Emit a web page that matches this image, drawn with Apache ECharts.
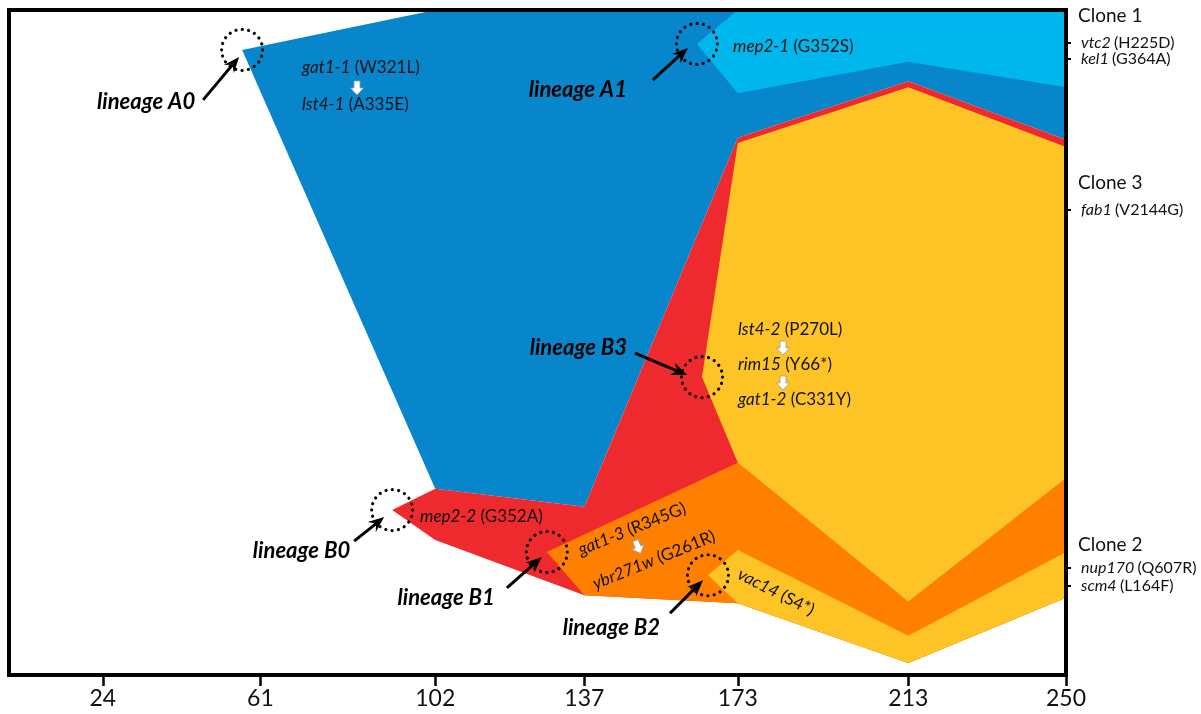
<!DOCTYPE html>
<html><head><meta charset="utf-8">
<script src="https://cdn.jsdelivr.net/npm/echarts@6/dist/echarts.min.js"></script>
<style>html,body{margin:0;padding:0;background:#fff}#chart{width:1201px;height:714px}</style>
</head><body><div id="chart"></div>
<script>
// ---- data (generation, frequency %) ----
const generations = [24, 61, 102, 137, 173, 213, 250];

const A0_origin = [56.7, 94.0];
const A0_upper = [[102, 100], [250, 100]];
const A0_lower = [[102, 28.0], [137, 25.3], [173, 80.8], [213, 89.3], [250, 80.5]];

const A1_origin = [163.4, 94.9];
const A1_upper = [[173, 100], [250, 100]];
const A1_lower = [[173, 87.5], [213, 92.2], [250, 88.4]];

const B0_origin = [91.9, 24.8];
const B0_upper = [[102, 28.0], [137, 25.3], [173, 80.8], [213, 89.3], [250, 80.5]];
const B0_lower = [[102, 20.3], [137, 12.0], [173, 10.8], [213, 1.8], [250, 11.6]];

const B1_origin = [128.2, 18.5];
const B1_upper = [[173, 31.9], [213, 11.0], [250, 29.6]];
const B1_lower = [[137, 12.0], [173, 10.8], [213, 1.8], [250, 11.6]];

const B3_origin = [164.6, 44.8];
const B3_upper = [[173, 80.0], [213, 88.4], [250, 79.4]];
const B3_lower = [[173, 31.9], [213, 11.0], [250, 29.6]];

const B2_origin = [166.0, 15.0];
const B2_upper = [[173, 18.8], [213, 5.9], [250, 18.5]];
const B2_lower = [[173, 10.8], [213, 1.8], [250, 11.6]];

const lineageNames = ['lineage A0', 'lineage A1', 'lineage B0', 'lineage B1', 'lineage B2', 'lineage B3'];
const lineageOrigins = [A0_origin, A1_origin, B0_origin, B1_origin, B2_origin, B3_origin];

const cloneHeaders = ['Clone 1', 'Clone 3', 'Clone 2'];
const cloneHeaderFreq = [99.1, 74.0, 19.5];
const markerGenes = ['vtc2', 'kel1', 'fab1', 'nup170', 'scm4'];
const markerMutations = ['(H225D)', '(G364A)', '(V2144G)', '(Q607R)', '(L164F)'];
const markerFreq = [95.1, 92.6, 69.9, 16.1, 13.4];

// ---- styles / layout ----
const COLORS = { A0: '#0886CC', A1: '#00B7ED', B0: '#EE2A2E', B1: '#FF8000', B3: '#FEC425', B2: '#FEC425' };
const FONT = 'Lato';
const calloutLayout = {
  'lineage A0': { tail: [-39, 50], head: [-3, 7], label: [-47, 52] },
  'lineage A1': { tail: [-44, 36], head: [-9, 4], label: [-70, 46] },
  'lineage B0': { tail: [-38, 31], head: [-8, 7], label: [-42, 41] },
  'lineage B1': { tail: [-40, 36], head: [-5, 5], label: [-52, 46] },
  'lineage B2': { tail: [-38, 38], head: [-5, 5], label: [-48, 53] },
  'lineage B3': { tail: [-67, -24], head: [-15, -2], label: [-75, -29] }
};

function polygonSeries(name, origin, upper, lower, color) {
  return {
    type: 'custom', name: name, coordinateSystem: 'cartesian2d', silent: true,
    data: [[origin[0], origin[1]]],
    renderItem: function (params, api) {
      const pts = [origin].concat(upper, lower.slice().reverse()).map(function (p) { return api.coord(p); });
      return { type: 'polygon', shape: { points: pts }, style: { fill: color } };
    }
  };
}

const calloutSeries = {
  type: 'custom', coordinateSystem: 'cartesian2d', silent: true, z: 5,
  data: lineageOrigins.map(function (o) { return [o[0], o[1]]; }),
  renderItem: function (params, api) {
    const name = lineageNames[params.dataIndex];
    const L = calloutLayout[name];
    const c = api.coord([api.value(0), api.value(1)]);
    const tail = [c[0] + L.tail[0], c[1] + L.tail[1]];
    const head = [c[0] + L.head[0], c[1] + L.head[1]];
    const dx = head[0] - tail[0], dy = head[1] - tail[1], len = Math.hypot(dx, dy);
    const ux = dx / len, uy = dy / len, nx = -uy, ny = ux;
    const AL = 16, AW = 6.5;
    const base = [head[0] - ux * AL, head[1] - uy * AL];
    const notch = [head[0] - ux * AL * 0.65, head[1] - uy * AL * 0.65];
    return {
      type: 'group', children: [
        { type: 'circle', shape: { cx: c[0], cy: c[1], r: 20.5 },
          style: { fill: null, stroke: '#000', lineWidth: 3.2, lineDash: [0.01, 6.4], lineCap: 'round' } },
        { type: 'line', shape: { x1: tail[0], y1: tail[1], x2: notch[0], y2: notch[1] },
          style: { stroke: '#000', lineWidth: 3 } },
        { type: 'polygon', shape: { points: [head, [base[0] + nx * AW, base[1] + ny * AW], notch, [base[0] - nx * AW, base[1] - ny * AW]] },
          style: { fill: '#000' } },
        { type: 'text', x: c[0] + L.label[0], y: c[1] + L.label[1],
          style: { text: name, fontSize: 22, fontWeight: 'bold', fontStyle: 'italic', fontFamily: FONT, fill: '#000',
                   align: 'right', verticalAlign: 'middle', textAlign: 'right', textVerticalAlign: 'middle' } }
      ]
    };
  }
};

function gene(x, y, gname, mut, rot, align) {
  return {
    type: 'text', x: x, y: y, rotation: (rot || 0) * Math.PI / 180, z: 100,
    style: {
      text: '{i|' + gname + '} ' + mut, fontSize: 17, fontFamily: FONT, fill: '#111',
      align: align || 'left', verticalAlign: 'middle', textAlign: align || 'left', textVerticalAlign: 'middle',
      rich: { i: { fontStyle: 'italic', fontSize: 17, fontFamily: FONT, fill: '#111' } }
    }
  };
}
function whiteArrow(x, y, rot) {
  return {
    type: 'polygon', x: x, y: y, rotation: (rot || 0) * Math.PI / 180, z: 100,
    shape: { points: [[-3, -7], [3, -7], [3, 0], [6.5, 0], [0, 7], [-6.5, 0], [-3, 0]] },
    style: { fill: '#fff', stroke: '#999', lineWidth: 0.8 }
  };
}

function nearest(arr, v) {
  let b = 0;
  for (let i = 1; i < arr.length; i++) if (Math.abs(arr[i] - v) < Math.abs(arr[b] - v)) b = i;
  return b;
}

const chart = echarts.init(document.getElementById('chart'), null, { renderer: 'canvas' });
chart.setOption({
  animation: false,
  backgroundColor: '#fff',
  grid: { left: 9, top: 10, right: 135, bottom: 39, show: true, borderColor: '#000', borderWidth: 4, z: 10 },
  xAxis: {
    type: 'value', min: 2, max: 250,
    axisLine: { show: false }, splitLine: { show: false },
    axisTick: { show: true, customValues: generations, length: 11, lineStyle: { color: '#000', width: 2.5 } },
    axisLabel: { customValues: generations, fontSize: 23, fontFamily: FONT, color: '#111', margin: 12 }
  },
  yAxis: [{
    type: 'value', min: 0, max: 100, position: 'right',
    axisLine: { show: false }, splitLine: { show: false },
    axisTick: { show: true, customValues: markerFreq, length: 5, lineStyle: { color: '#000', width: 2 } },
    axisLabel: {
      customValues: cloneHeaderFreq.concat(markerFreq), margin: 15, color: '#111',
      formatter: function (v) {
        const h = nearest(cloneHeaderFreq, v);
        if (Math.abs(cloneHeaderFreq[h] - v) < 0.01) return '{h|' + cloneHeaders[h] + '}';
        const i = nearest(markerFreq, v);
        return '{i|' + markerGenes[i] + '} {m|' + markerMutations[i] + '}';
      },
      rich: {
        h: { fontSize: 19, fontFamily: FONT, color: '#111', padding: [0, 0, 0, -3] },
        i: { fontSize: 16, fontFamily: FONT, fontStyle: 'italic', color: '#111' },
        m: { fontSize: 16, fontFamily: FONT, color: '#111' }
      }
    }
  }, {
    type: 'value', min: 0, max: 100, position: 'right',
    axisLine: { show: false }, splitLine: { show: false }, axisLabel: { show: false },
    axisTick: { show: true, inside: true, customValues: markerFreq, length: 8, lineStyle: { color: '#000', width: 2 } }
  }],
  series: [
    polygonSeries('A0', A0_origin, A0_upper, A0_lower, COLORS.A0),
    polygonSeries('A1', A1_origin, A1_upper, A1_lower, COLORS.A1),
    polygonSeries('B0', B0_origin, B0_upper, B0_lower, COLORS.B0),
    polygonSeries('B1', B1_origin, B1_upper, B1_lower, COLORS.B1),
    polygonSeries('B3', B3_origin, B3_upper, B3_lower, COLORS.B3),
    polygonSeries('B2', B2_origin, B2_upper, B2_lower, COLORS.B2),
    calloutSeries
  ],
  graphic: [
    gene(302, 68, 'gat1-1', '(W321L)'),
    whiteArrow(357, 88),
    gene(302, 105, 'lst4-1', '(A335E)'),
    gene(733, 47, 'mep2-1', '(G352S)'),
    gene(738, 330, 'lst4-2', '(P270L)'),
    whiteArrow(783, 348),
    gene(738, 365, 'rim15', '(Y66*)'),
    whiteArrow(783, 383),
    gene(738, 400, 'gat1-2', '(C331Y)'),
    gene(420, 517, 'mep2-2', '(G352A)'),
    gene(632, 529, 'gat1-3', '(R345G)', 22, 'center'),
    whiteArrow(638, 547, 22),
    gene(654, 560, 'ybr271w', '(G261R)', 22, 'center'),
    gene(776, 592, 'vac14', '(S4*)', -27, 'center')
  ]
});
</script></body></html>
